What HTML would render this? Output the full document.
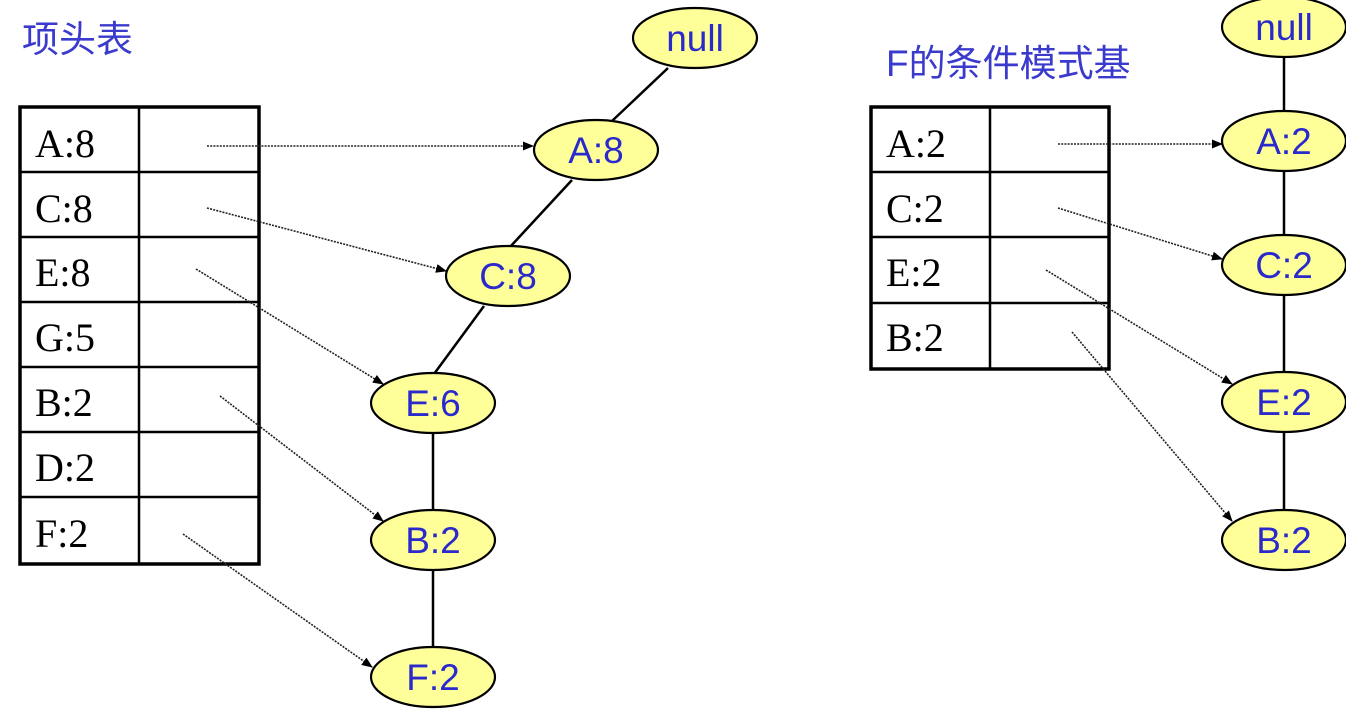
<!DOCTYPE html>
<html><head><meta charset="utf-8"><style>
body{margin:0;background:#fff;width:1346px;height:722px;overflow:hidden}
</style></head><body>
<svg width="1346" height="722" xmlns="http://www.w3.org/2000/svg">
<defs><marker id="ar" markerWidth="11" markerHeight="9" refX="10" refY="4.5" orient="auto" markerUnits="userSpaceOnUse"><path d="M0,0 L11,4.5 L0,9 z" fill="#000"/></marker></defs>
<text x="22" y="52" font-family="Noto Sans CJK SC, sans-serif" font-size="37" fill="#3a3acc">项头表</text>
<text x="886" y="76" font-family="Liberation Sans, Noto Sans CJK SC, sans-serif" font-size="37" fill="#3a3acc">F的条件模式基</text>
<g stroke="#000" fill="none">
<rect x="20" y="107" width="239" height="457" stroke-width="3.5"/>
<line x1="139" y1="107" x2="139" y2="564" stroke-width="2.5"/>
<g stroke-width="2.5"><line x1="20" y1="172" x2="259" y2="172"/><line x1="20" y1="237" x2="259" y2="237"/><line x1="20" y1="302" x2="259" y2="302"/><line x1="20" y1="367" x2="259" y2="367"/><line x1="20" y1="432" x2="259" y2="432"/><line x1="20" y1="497" x2="259" y2="497"/></g>
<rect x="871" y="107" width="238" height="262" stroke-width="3.5"/>
<line x1="990" y1="107" x2="990" y2="369" stroke-width="2.5"/>
<g stroke-width="2.5"><line x1="871" y1="172" x2="1109" y2="172"/><line x1="871" y1="237" x2="1109" y2="237"/><line x1="871" y1="303" x2="1109" y2="303"/></g>
</g>
<g font-family="Liberation Serif, serif" font-size="40" fill="#000">
<text x="35" y="157">A:8</text><text x="35" y="222">C:8</text><text x="35" y="286">E:8</text><text x="35" y="351">G:5</text><text x="35" y="416">B:2</text><text x="35" y="481">D:2</text><text x="35" y="547">F:2</text>
<text x="886" y="157">A:2</text><text x="886" y="222">C:2</text><text x="886" y="286">E:2</text><text x="886" y="351">B:2</text>
</g>
<g stroke="#000" stroke-width="2.5">
<line x1="668" y1="68" x2="612" y2="121"/><line x1="572" y1="180" x2="510" y2="247"/><line x1="484" y1="306" x2="434" y2="374"/>
<line x1="433" y1="433" x2="433" y2="510"/><line x1="433" y1="570" x2="433" y2="647"/>
<line x1="1284" y1="57" x2="1284" y2="112"/><line x1="1284" y1="171" x2="1284" y2="236"/><line x1="1284" y1="295" x2="1284" y2="373"/><line x1="1284" y1="432" x2="1284" y2="511"/>
</g>
<g stroke="#222" stroke-width="1.6" stroke-dasharray="2,1.2" fill="none" marker-end="url(#ar)">
<line x1="207" y1="146" x2="533" y2="146"/><line x1="207" y1="208" x2="446" y2="271"/><line x1="196" y1="269" x2="383" y2="384"/><line x1="220" y1="396" x2="383" y2="521"/><line x1="183" y1="534" x2="372" y2="667"/>
<line x1="1058" y1="144" x2="1222" y2="144"/><line x1="1058" y1="208" x2="1222" y2="259"/><line x1="1046" y1="270" x2="1232" y2="384"/><line x1="1072" y1="332" x2="1232" y2="521"/>
</g>
<g fill="#ffff99" stroke="#000" stroke-width="2.2">
<ellipse cx="695" cy="38" rx="62" ry="30"/><ellipse cx="596" cy="150" rx="62" ry="30"/><ellipse cx="508" cy="276" rx="62" ry="30"/><ellipse cx="433" cy="403" rx="62" ry="30"/><ellipse cx="433" cy="540" rx="62" ry="30"/><ellipse cx="433" cy="677" rx="62" ry="30"/>
<ellipse cx="1284" cy="27" rx="62" ry="30"/><ellipse cx="1284" cy="141" rx="62" ry="30"/><ellipse cx="1284" cy="265" rx="62" ry="30"/><ellipse cx="1284" cy="402" rx="62" ry="30"/><ellipse cx="1284" cy="540" rx="62" ry="30"/>
</g>
<g font-family="Liberation Sans, sans-serif" font-size="37" fill="#2a2acc" text-anchor="middle">
<text x="695" y="51">null</text><text x="596" y="163">A:8</text><text x="508" y="289">C:8</text><text x="433" y="416">E:6</text><text x="433" y="553">B:2</text><text x="433" y="690">F:2</text>
<text x="1284" y="40">null</text><text x="1284" y="154">A:2</text><text x="1284" y="278">C:2</text><text x="1284" y="415">E:2</text><text x="1284" y="553">B:2</text>
</g>
</svg>
</body></html>
